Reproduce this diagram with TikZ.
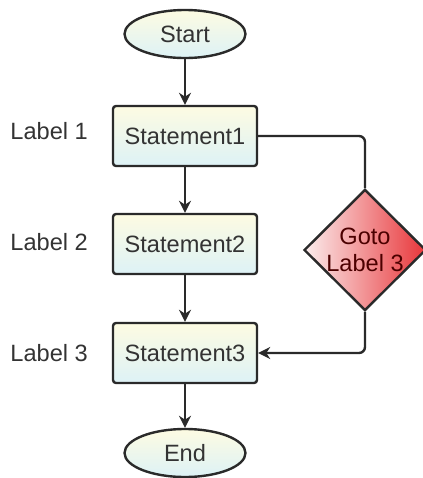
\documentclass[tikz,border=0pt]{standalone}
\usepackage{fontspec}
\setmainfont{Liberation Sans}
\usetikzlibrary{shapes.geometric,arrows.meta}
\definecolor{boxtop}{HTML}{FDFBE2}
\definecolor{boxbot}{HTML}{DDF2F6}
\definecolor{edgecol}{HTML}{2A2A2A}
\definecolor{txtcol}{HTML}{333333}
\definecolor{redL}{HTML}{FBEDED}
\definecolor{redR}{HTML}{E8363A}
\begin{document}
\begin{tikzpicture}[x=0.5pt,y=-0.5pt,
  every node/.style={font=\fontsize{11.8}{13.5}\selectfont, text=txtcol},
  stmt/.style={draw=edgecol, line width=1.2pt, rounded corners=1.5pt,
    minimum width=72pt, minimum height=30pt, inner sep=0pt,
    top color=boxtop, bottom color=boxbot},
  term/.style={ellipse, draw=edgecol, line width=1.2pt,
    minimum width=60.5pt, minimum height=24pt, inner sep=0pt,
    top color=boxtop, bottom color=boxbot},
  gotobox/.style={diamond, draw=edgecol, line width=1.2pt,
    minimum width=61pt, minimum height=59pt, inner sep=0pt, align=center,
    left color=redL, right color=redR, text=black!70!red},
  lbl/.style={anchor=west, inner sep=0pt},
  conn/.style={draw=edgecol, line width=1.2pt, -{Stealth[length=6pt,width=6pt]}},
  plain/.style={draw=edgecol, line width=1.2pt}
]
\useasboundingbox (0,0) rectangle (423,478);
\node[term] (start) at (185,34) {Start};
\node[stmt] (s1) at (185,136) {Statement1};
\node[stmt] (s2) at (185,244) {Statement2};
\node[stmt] (s3) at (185,353) {Statement3};
\node[term] (end) at (185,453) {End};
\node[gotobox] (goto) at (365,250) {Goto\\Label 3};
\node[lbl] (l1) at (10,131) {Label 1};
\node[lbl] (l2) at (10,242) {Label 2};
\node[lbl] (l3) at (10,353) {Label 3};
\draw[conn] (start) -- (s1);
\draw[conn] (s1) -- (s2);
\draw[conn] (s2) -- (s3);
\draw[conn] (s3) -- (end);
\draw[plain, rounded corners=3pt] (s1.east) -| (goto.north);
\draw[conn, rounded corners=3pt] (goto.south) |- (s3.east);
\end{tikzpicture}
\end{document}
